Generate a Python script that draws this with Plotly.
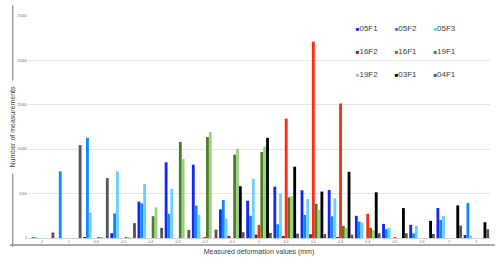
import plotly.graph_objects as go

categories = ["-2", "-1", "-0.6", "-0.5", "-0.4", "-0.3", "-0.2", "-0.1", "0",
              "0.1", "0.2", "0.3", "0.4", "0.5", "0.6", "1", "2"]

s05F1 = [0, 0, 100, 550, 4090, 8520, 8260, 3220, 4200, 5790, 5380, 5420, 2500, 1590, 1480, 3370, 340]
s05F2 = [60, 7500, 11280, 2760, 3900, 2730, 3640, 4280, 2500, 1550, 2610, 2450, 1850, 990, 530, 2020, 3950]
s05F3 = [90, 0, 2870, 7500, 6100, 5530, 2610, 2200, 6670, 5000, 4390, 4470, 1740, 1170, 1360, 2500, 280]
s16F2 = [0, 0, 0, 0, 0, 0, 0, 200, 380, 150, 420, 60, 0, 0, 0, 0, 0]
s16F1 = [0, 0, 0, 0, 0, 0, 80, 0, 1480, 13440, 22110, 15150, 2730, 100, 0, 0, 0]
s19F1 = [0, 0, 60, 100, 2460, 10830, 11360, 9390, 9690, 4580, 3860, 1360, 1170, 0, 0, 0, 0]
s19F2 = [0, 0, 100, 100, 3450, 8900, 11930, 10070, 10300, 4700, 3140, 1140, 910, 0, 0, 0, 0]
s03F1 = [0, 0, 0, 0, 0, 0, 0, 5830, 11280, 8030, 5230, 7460, 5150, 3370, 1930, 3670, 1780]
s04F1 = [620, 10450, 6740, 1670, 1140, 910, 950, 650, 560, 490, 450, 380, 530, 530, 450, 1400, 990]

series_names = ["05F1", "05F2", "05F3", "16F2", "16F1", "19F1", "19F2", "03F1", "04F1"]
series_values = [s05F1, s05F2, s05F3, s16F2, s16F1, s19F1, s19F2, s03F1, s04F1]
series_colors = ["#1428F0", "#0A8CFF", "#6CCFFF", "#9E1010", "#FF2A12",
                 "#4B7D25", "#A0CF80", "#000000", "#555555"]
# legend columns (3 rows x 3 columns, filled row by row)
legend_cols = ["legend", "legend2", "legend3"] * 3

fig = go.Figure()
for name, vals, col in zip(series_names, series_values, series_colors):
    fig.add_trace(go.Bar(x=categories, y=vals, name=name, marker=dict(color=col, line=dict(width=0)),
                         legendgroup=name, showlegend=False))
for name, col, lg in zip(series_names, series_colors, legend_cols):
    fig.add_trace(go.Scatter(x=[None], y=[None], mode="markers",
                             marker=dict(color="rgba(0,0,0,0)", size=1),
                             name='<span style="color:%s;font-size:6px">■</span>%s' % (col, name),
                             legendgroup=name, legend=lg, showlegend=True, hoverinfo="skip"))

leg_common = dict(orientation="v", xanchor="left", yanchor="top",
                  font=dict(family="Liberation Sans, Arial, sans-serif", size=8, color="#404040"),
                  bgcolor="rgba(0,0,0,0)", itemwidth=30, tracegroupgap=4)

fig.update_layout(
    width=500, height=259,
    margin=dict(l=28, r=10, t=16, b=21, autoexpand=False),
    paper_bgcolor="white", plot_bgcolor="white",
    barmode="group", bargap=0.06, bargroupgap=0,
    font=dict(family="Liberation Sans, Arial, sans-serif", color="#595959"),
    legend=dict(x=0.623, y=1.01, **leg_common),
    legend2=dict(x=0.707, y=1.01, **leg_common),
    legend3=dict(x=0.791, y=1.01, **leg_common),
    xaxis=dict(type="category", categoryorder="array", categoryarray=categories,
               automargin=False,
               showgrid=False, showline=True, linecolor="#d0d0d0", linewidth=1,
               ticks="", tickfont=dict(size=3.5, color="#707070"),
               title=dict(text="Measured deformation values (mm)", font=dict(size=7, color="#404040"),
                          standoff=5)),
    yaxis=dict(range=[0, 25000], tickvals=[0, 5000, 10000, 15000, 20000, 25000], tickformat="d",
               automargin=False,
               showgrid=True, gridcolor="#e6e6e6", gridwidth=1, zeroline=False,
               showline=False, ticks="", tickfont=dict(size=3.5, color="#707070"),
               title=dict(text="Number of measurements", font=dict(size=7, color="#404040"),
                          standoff=0)),
    shapes=[
        dict(type="line", xref="paper", yref="paper", x0=-0.033, x1=-0.033, y0=1.05, y1=0.71,
             line=dict(color="#8c8c8c", width=1.2)),
        dict(type="line", xref="paper", yref="paper", x0=-0.033, x1=-0.033, y0=0.29, y1=-0.04,
             line=dict(color="#8c8c8c", width=1.2)),
        dict(type="line", xref="paper", yref="paper", x0=-0.039, x1=1.011, y0=-0.032, y1=-0.032,
             line=dict(color="#8c8c8c", width=1.5)),
    ],
)

fig.write_html("out.html", config={"displayModeBar": False},
               post_script="document.body.style.margin='0';")
